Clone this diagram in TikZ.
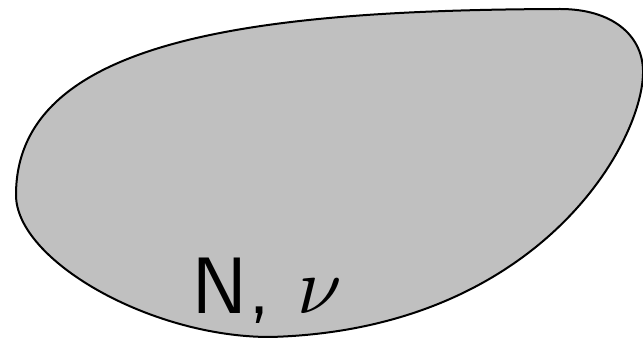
\documentclass[tikz,border=0pt]{standalone}
\definecolor{blobgray}{RGB}{192,192,192}
\begin{document}
\begin{tikzpicture}[x=1pt,y=1pt,
  blob/.style={draw=black, line width=2pt, fill=blobgray},
  lbl/.style={font=\sffamily, scale=8, inner sep=0pt, anchor=base}]
\useasboundingbox (0,0) rectangle (643,340);
\path[blob] (16,145) .. controls (16,300) and (250,330) .. (560,331)
  .. controls (612,331) and (642,305) .. (643,270)
  .. controls (645,200) and (540,10) .. (270,3)
  .. controls (150,3) and (16,80) .. (16,145) -- cycle;
\node[lbl] (label) at (267,27) {N, $\nu$};
\end{tikzpicture}
\end{document}
